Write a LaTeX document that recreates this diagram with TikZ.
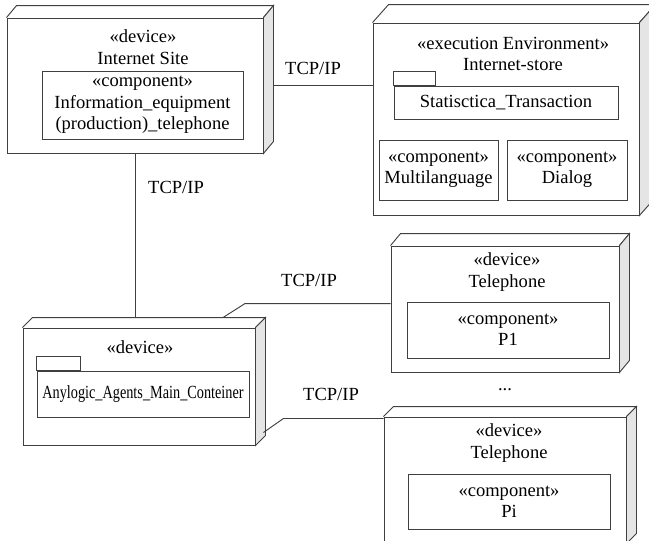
\documentclass[tikz,border=0pt]{standalone}
\usepackage{fontspec}
\setmainfont{Liberation Serif}
\usepackage{xcolor}
\usepackage{tikz}

\definecolor{sidegray}{gray}{0.9}
\definecolor{linegray}{gray}{0.25}

\begin{document}
\begin{tikzpicture}[x=0.75pt,y=-0.75pt,
    font=\fontsize{13.9}{16}\selectfont,
    outline/.style={draw=linegray,line width=0.7pt},
    frontbox/.style={outline,fill=white,inner sep=0pt},
    compbox/.style={outline,inner sep=0pt,align=center},
    link/.style={linegray,line width=0.7pt},
    lbl/.style={inner sep=0pt,align=center}]
    \def\pxu{0.75pt}
    \useasboundingbox (0,0) rectangle (649,540);
    \clip (0,0) rectangle (649,540);

    \newcommand{\devicebox}[7]{%
        \node[frontbox,minimum width={(#4-#2)*\pxu},minimum height={(#5-#3)*\pxu}]
            (#1) at ({(#2+#4)/2},{(#3+#5)/2}) {};
        \draw[outline] (#1.north west) -- ++(#6,-#7)
            -- ([shift={(#6,-#7)}]#1.north east) -- (#1.north east);
        \filldraw[outline,fill=sidegray] (#1.north east) -- ++(#6,-#7)
            -- ([shift={(#6,-#7)}]#1.south east) -- (#1.south east) -- cycle;
    }
    \newcommand{\partbox}[6]{%
        \node[compbox,minimum width={(#4-#2)*\pxu},minimum height={(#5-#3)*\pxu}]
            (#1) at ({(#2+#4)/2},{(#3+#5)/2}) {#6};
    }

    \devicebox{site}{7}{18}{263}{153}{10}{12}
    \devicebox{store}{373}{23}{639}{215}{16}{18}
    \devicebox{agents}{23}{328}{255}{445}{10}{10}
    \devicebox{phone1}{391}{246}{619}{372}{10}{12}
    \devicebox{phonei}{384}{417}{626}{543}{10}{10}

    % Internet Site
    \node[lbl] (sitehead) at (143,47) {«device»\\Internet Site};
    \partbox{equip}{42}{71}{243}{139}{«component»\\Information\_equipment\\(production)\_telephone}

    % Internet-store
    \node[lbl] (storehead) at (513,54) {«execution Environment»\\Internet-store};
    \partbox{trans}{394}{86}{618}{119}{Statisctica\_Transaction}
    \draw[outline] (trans.north west) rectangle ++(42,-14);
    \partbox{multi}{379}{140}{498}{200}{«component»\\Multilanguage}
    \partbox{dialog}{507}{140}{627}{200}{«component»\\Dialog}

    % agents container
    \node[lbl] (agentshead) at (140,347) {«device»};
    \partbox{main}{37}{371}{249}{417}{\scalebox{0.77}[1]{Anylogic\_Agents\_Main\_Conteiner}}
    \draw[outline] (main.north west) rectangle ++(44,-14);

    % telephones
    \node[lbl] (p1head) at (507,272) {«device»\\Telephone};
    \partbox{pone}{407}{302}{609}{358}{«component»\\P1}
    \node[lbl] (pihead) at (509,443) {«device»\\Telephone};
    \partbox{pcomp}{408}{474}{610}{529}{«component»\\Pi}
    \node[lbl] (more) at (505,390) {...};

    % links
    \draw[link] ([shift={(10,0)}]site.east) -- (site.east -| store.west);
    \coordinate (agtop) at ([shift={(0,-10)}]agents.north);
    \draw[link] (site.south) -- (site.south |- agtop);
    \coordinate (up1) at ([shift={(84,-10)}]agents.north);
    \draw[link] (up1) -- ++(22,-14) coordinate (up2) -- (up2 -| phone1.west);
    \coordinate (side1) at ([shift={(8,-13)}]agents.south east);
    \draw[link] (side1) -- ++(20,-14) coordinate (side2) -- (side2 -| phonei.west);

    \node[lbl] (tcp1) at (313,68) {TCP/IP};
    \node[lbl] (tcp2) at (176,187) {TCP/IP};
    \node[lbl] (tcp3) at (309,280) {TCP/IP};
    \node[lbl] (tcp4) at (331,394) {TCP/IP};
\end{tikzpicture}
\end{document}
